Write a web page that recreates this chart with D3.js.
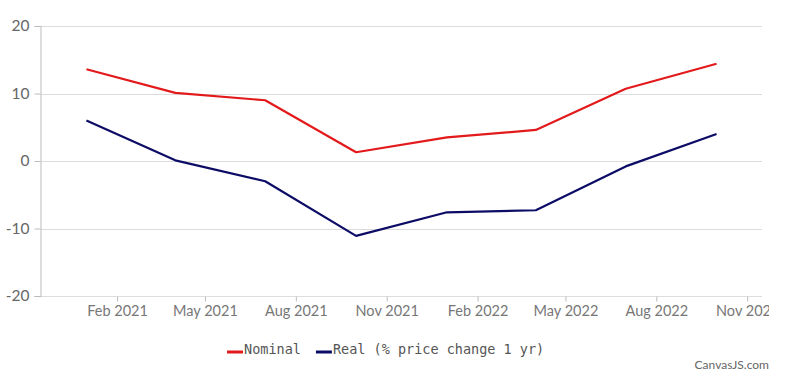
<!DOCTYPE html>
<html lang="en">
<head>
    <meta charset="UTF-8"/>
    <title>Nominal vs Real price change</title>
    <script src="https://d3js.org/d3.v7.min.js"></script>
    <style>
        body { margin: 0; background: #fff; }
        svg { display: block; }
    </style>
</head>
<body>
    <script>
        var w = 785;
        var h = 375;

        // quarterly observations (first day of each quarter)
        var dates = ["2021-01-01", "2021-04-01", "2021-07-01", "2021-10-01",
                     "2022-01-01", "2022-04-01", "2022-07-01", "2022-10-01"];
        var nominal = [13.6, 10.1, 9.0, 1.3, 3.5, 4.6, 10.7, 14.4];
        var real = [6.0, 0.1, -3.0, -11.1, -7.6, -7.3, -0.8, 4.0];
        var seriesNames = ["Nominal", "Real (% price change 1 yr)"];
        var seriesColors = ["#e31a1c", "#0c0c66"];
        var yTicks = [-20, -10, 0, 10, 20];
        var xTickStart = "2021-02-01", xTickEnd = "2022-11-02";

        var parse = d3.timeParse("%Y-%m-%d");
        var xDates = dates.map(parse);

        var plotLeft = 41, plotRight = 762, plotTop = 26, plotBottom = 296;

        var xScale = d3.scaleTime()
            .domain([d3.timeDay.offset(xDates[0], -46), d3.timeDay.offset(xDates[xDates.length - 1], 46)])
            .range([plotLeft, plotRight]);

        var yScale = d3.scaleLinear()
            .domain([-20, 20])
            .range([plotBottom, plotTop]);

        var svg = d3.select("body")
            .append("svg")
            .attr("width", w)
            .attr("height", h);

        // gridlines
        svg.append("g")
            .selectAll("line")
            .data(yTicks.filter(function(d) { return d > -20; }))
            .enter()
            .append("line")
            .attr("x1", plotLeft)
            .attr("x2", plotRight)
            .attr("y1", function(d) { return Math.round(yScale(d)) + 0.5; })
            .attr("y2", function(d) { return Math.round(yScale(d)) + 0.5; })
            .attr("stroke", "#dcdcdc")
            .attr("stroke-width", 1);

        // y axis
        var yAxis = svg.append("g")
            .attr("transform", "translate(" + (plotLeft - 0.5) + ",0)")
            .call(d3.axisLeft(yScale).tickValues(yTicks).tickSize(6).tickPadding(5)
                .tickFormat(function(d) { return String(d); }));
        yAxis.select(".domain").attr("stroke", "#bbbbbb");
        yAxis.selectAll(".tick line").attr("stroke", "#bbbbbb");
        yAxis.selectAll(".tick text")
            .attr("fill", "#666666")
            .style("font-family", "Lato, 'Open Sans', sans-serif")
            .style("font-size", "15.5px");

        // x axis
        var xTickDates = d3.timeMonth.range(parse(xTickStart), parse(xTickEnd), 3);
        var xAxis = svg.append("g")
            .attr("transform", "translate(0," + (plotBottom + 0.5) + ")")
            .call(d3.axisBottom(xScale).tickValues(xTickDates).tickSize(5).tickPadding(4)
                .tickFormat(d3.timeFormat("%b %Y")));
        xAxis.select(".domain").attr("stroke", "#bbbbbb").attr("d", "M" + plotLeft + ",0H" + plotRight);
        xAxis.selectAll(".tick line").attr("stroke", "#bbbbbb");
        xAxis.selectAll(".tick text")
            .attr("fill", "#777777")
            .style("font-family", "Lato, 'Open Sans', sans-serif")
            .style("font-size", "14.5px");

        // clip so the last label is cut at the plot edge like the original
        svg.append("clipPath").attr("id", "xclip")
            .append("rect").attr("x", 0).attr("y", 0).attr("width", 769).attr("height", h);
        xAxis.attr("clip-path", "url(#xclip)");

        var line = d3.line()
            .x(function(d, i) { return xScale(xDates[i]); })
            .y(function(d) { return yScale(d); });

        [nominal, real].forEach(function(vals, k) {
            svg.append("path")
                .datum(vals)
                .attr("d", line)
                .attr("fill", "none")
                .attr("stroke", seriesColors[k])
                .attr("stroke-width", 2.2)
                .attr("stroke-linejoin", "round");
        });

        // legend
        var legend = svg.append("g")
            .attr("transform", "translate(227,350)")
            .style("font-family", "'DejaVu Sans Mono', 'Liberation Mono', monospace")
            .style("font-size", "13.5px");
        var lx = 0;
        seriesNames.forEach(function(name, k) {
            legend.append("line")
                .attr("x1", lx).attr("x2", lx + 16)
                .attr("y1", 2).attr("y2", 2)
                .attr("stroke", seriesColors[k])
                .attr("stroke-width", 3);
            var t = legend.append("text")
                .attr("x", lx + 17)
                .attr("y", 4)
                .attr("fill", "#555555")
                .text(name);
            lx += 17 + t.node().getComputedTextLength() + 15;
        });

        // credit
        svg.append("text")
            .attr("x", 769)
            .attr("y", 369)
            .attr("text-anchor", "end")
            .attr("fill", "#666666")
            .style("font-family", "Lato, 'Open Sans', sans-serif")
            .style("font-size", "12px")
            .text("CanvasJS.com");
    </script>
</body>
</html>
